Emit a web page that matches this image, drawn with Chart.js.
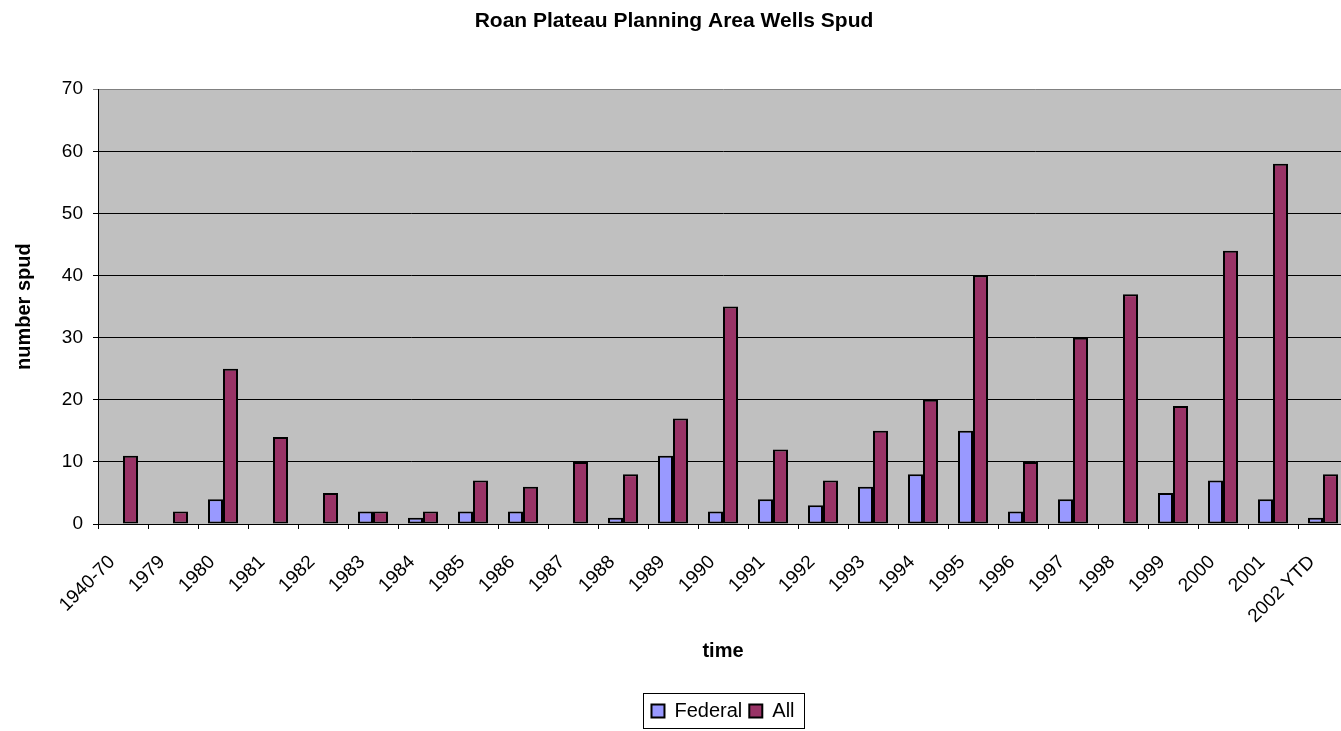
<!DOCTYPE html>
<html>
<head>
<meta charset="utf-8">
<script src="https://cdn.jsdelivr.net/npm/chart.js@4/dist/chart.umd.min.js"></script>
<style>
    html, body { margin: 0; padding: 0; background: #fff; overflow: hidden; }
    #wrap { width: 1341px; height: 731px; overflow: hidden; }
</style>
</head>
<body>
<div id="wrap"><canvas id="wellsChart" width="1350" height="731"></canvas></div>
<script>
// Dados
const years = ['1940-70', '1979', '1980', '1981', '1982', '1983', '1984', '1985', '1986', '1987',
    '1988', '1989', '1990', '1991', '1992', '1993', '1994', '1995', '1996', '1997',
    '1998', '1999', '2000', '2001', '2002 YTD'];
const federalWells = [0, 0, 4, 0, 0, 2, 1, 2, 2, 0, 1, 11, 2, 4, 3, 6, 8, 15, 2, 4, 0, 5, 7, 4, 1];
const allWells = [11, 2, 25, 14, 5, 2, 2, 7, 6, 10, 8, 17, 35, 12, 7, 15, 20, 40, 10, 30, 37, 19, 44, 58, 8];
const yTicks = [0, 10, 20, 30, 40, 50, 60, 70];

const FONT = 'Arial, "Liberation Sans", sans-serif';

// fundo cinza da área do gráfico
const plotBackground = {
    id: 'plotBackground',
    beforeDraw(chart) {
        const { ctx, chartArea } = chart;
        ctx.save();
        ctx.fillStyle = '#C0C0C0';
        ctx.fillRect(chartArea.left, chartArea.top, chartArea.right - chartArea.left, chartArea.bottom - chartArea.top);
        ctx.restore();
    }
};

// moldura da legenda
const legendFrame = {
    id: 'legendFrame',
    afterDraw(chart) {
        const boxes = chart.legend && chart.legend.legendHitBoxes;
        if (!boxes || !boxes.length) return;
        const left = Math.min(...boxes.map(b => b.left)) - 8;
        const right = Math.max(...boxes.map(b => b.left + b.width)) + 10;
        const top = Math.min(...boxes.map(b => b.top)) - 8;
        const bottom = Math.max(...boxes.map(b => b.top + b.height)) + 7;
        const ctx = chart.ctx;
        ctx.save();
        ctx.strokeStyle = '#000';
        ctx.lineWidth = 1;
        ctx.strokeRect(Math.round(left) + 0.5, Math.round(top) + 0.5, Math.round(right - left), Math.round(bottom - top));
        ctx.restore();
    }
};

new Chart(document.getElementById('wellsChart').getContext('2d'), {
    type: 'bar',
    data: {
        labels: years,
        datasets: [
            { label: 'Federal', data: federalWells, backgroundColor: '#9999FF', borderColor: '#000', borderWidth: 2, borderSkipped: false },
            { label: 'All', data: allWells, backgroundColor: '#993366', borderColor: '#000', borderWidth: 2, borderSkipped: false }
        ]
    },
    options: {
        responsive: false,
        animation: false,
        devicePixelRatio: 1,
        layout: { padding: { left: 0, right: 2, top: 0, bottom: 0 } },
        datasets: { bar: { categoryPercentage: 0.6, barPercentage: 1.0 } },
        scales: {
            x: {
                grid: { offset: true, drawOnChartArea: false, drawTicks: true, tickLength: 5, color: '#000' },
                border: { color: '#000', width: 1 },
                ticks: { autoSkip: false, minRotation: 45, maxRotation: 45, color: '#000', padding: 22, labelOffset: -11, font: { family: FONT, size: 19 } },
                title: { display: true, text: 'time', color: '#000', padding: { top: 0, bottom: 31 }, font: { family: FONT, size: 20, weight: 'bold' } },
                afterFit(scale) {
                    scale.height = 170;
                    scale.paddingLeft = 0;
                    scale.paddingRight = 0;
                }
            },
            y: {
                min: 0,
                max: 70,
                afterBuildTicks(scale) { scale.ticks = yTicks.map(v => ({ value: v })); },
                grid: {
                    color: ctx => (ctx.tick && ctx.tick.value === 70 ? '#808080' : '#000'),
                    tickLength: 5
                },
                border: { color: '#000', width: 1 },
                ticks: { color: '#000', padding: 10, font: { family: FONT, size: 19 } },
                title: { display: true, text: 'number spud', color: '#000', padding: { top: 12, bottom: 0 }, font: { family: FONT, size: 20, weight: 'bold' } },
                afterFit(scale) { scale.width = 98; }
            }
        },
        plugins: {
            title: {
                display: true,
                text: 'Roan Plateau Planning Area Wells Spud',
                color: '#000',
                font: { family: FONT, size: 21, weight: 'bold' },
                padding: { top: 9, bottom: 55 }
            },
            legend: {
                position: 'bottom',
                fullSize: false,
                labels: { color: '#000', boxWidth: 13, boxHeight: 13, padding: 7, font: { family: FONT, size: 20 } }
            },
            tooltip: { enabled: false }
        }
    },
    plugins: [plotBackground, legendFrame]
});
</script>
</body>
</html>
